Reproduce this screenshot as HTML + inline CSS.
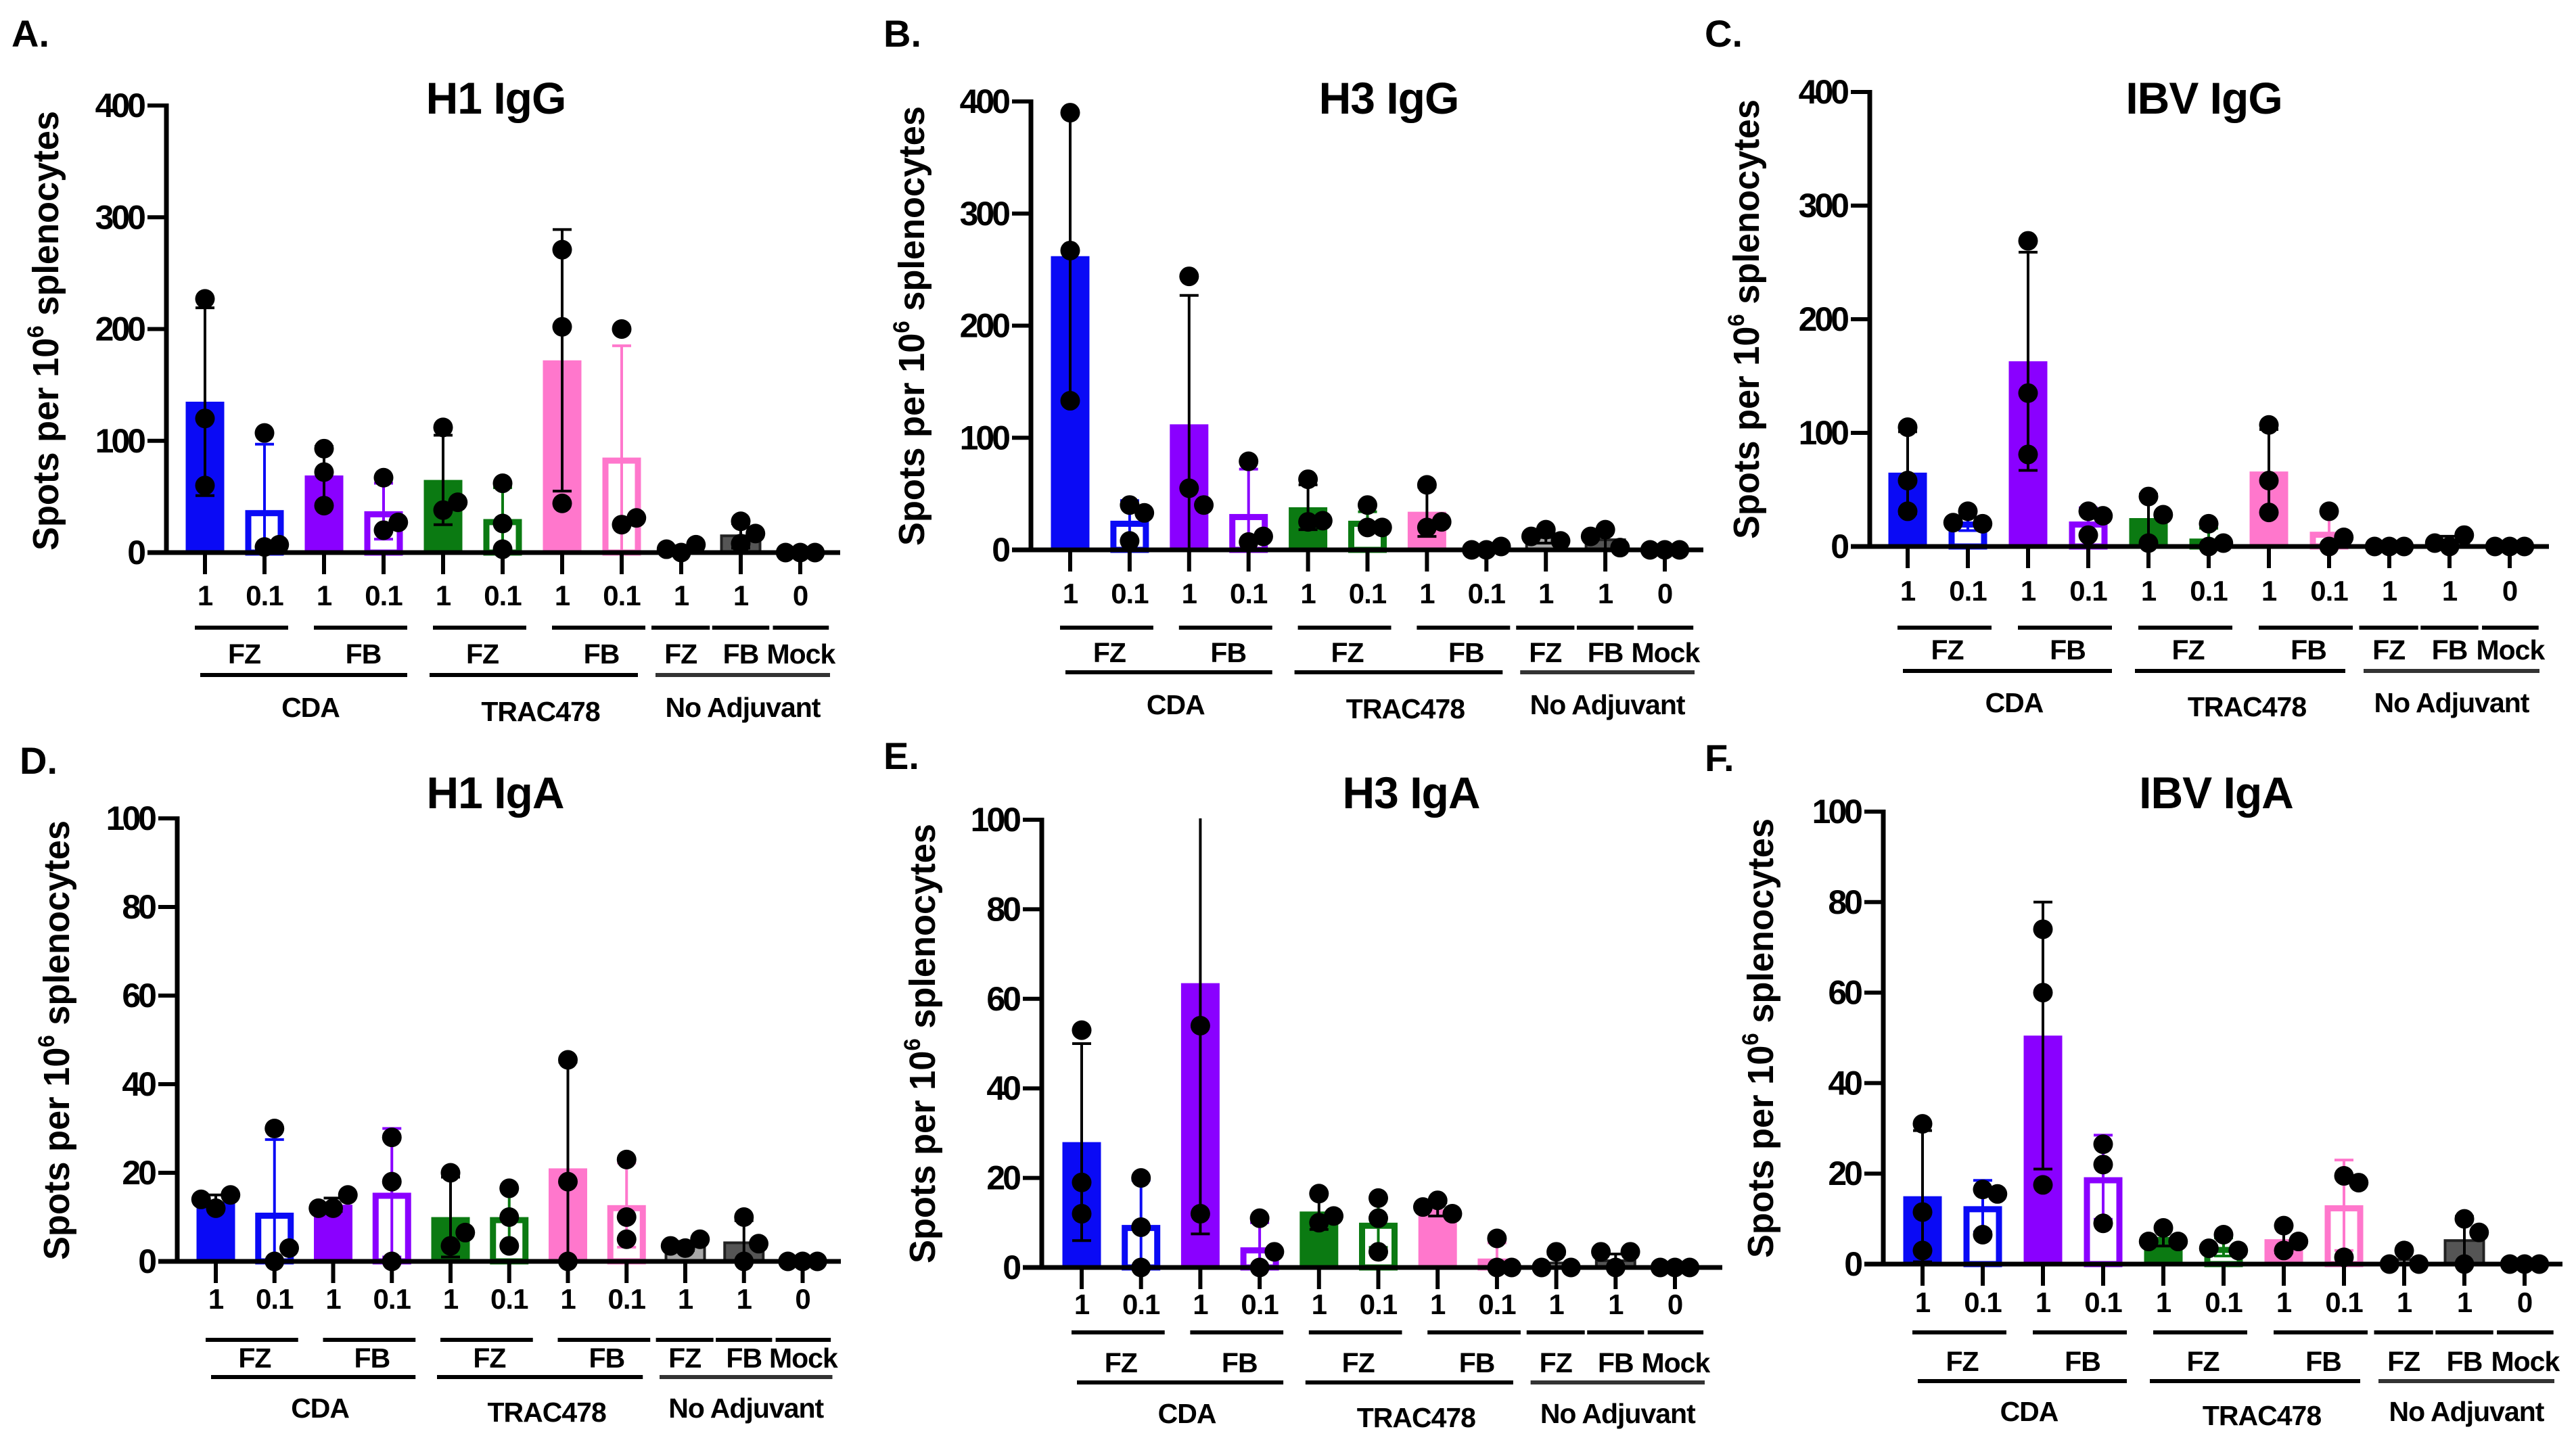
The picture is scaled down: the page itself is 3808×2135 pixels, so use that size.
<!DOCTYPE html>
<html><head><meta charset="utf-8"><style>
html,body{margin:0;padding:0;background:#fff;}
svg{display:block;font-family:"Liberation Sans",Arial,sans-serif;font-weight:bold;}
</style></head><body>
<svg id="fig" xmlns="http://www.w3.org/2000/svg" width="3808" height="2135" viewBox="0 0 3808 2135"></svg>
<script>
// ---- shared categories ----
const doseLabels = ["1","0.1","1","0.1","1","0.1","1","0.1","1","1","0"];
const formLabels = ["FZ","FB","FZ","FB","FZ","FB","Mock"];
const adjLabels = ["CDA","TRAC478","No Adjuvant"];
const panelTitles = ["H1 IgG","H3 IgG","IBV IgG","H1 IgA","H3 IgA","IBV IgA"];
const panelLetters = ["A.","B.","C.","D.","E.","F."];
const igGTicks = [0,100,200,300,400];
const igATicks = [0,20,40,60,80,100];

// ---- panel A: H1 IgG ----
const h1IgGMeans = [135,38,69,37,65,30,172,85,3,15,0];
const h1IgGSD = [84,59,26,25,40,28,117,100,3,11,0];
const h1IgGPoints = [[227,120,60],[107,5,7],[93,72,42],[67,20,27],[112,38,45],[62,26,3],[271,202,44],[200,25,31],[0,7,3],[28,8,17],[0,0,0]];
// ---- panel B: H3 IgG ----
const h3IgGMeans = [262,26,112,32,38,26,34,2,11,9,0];
const h3IgGSD = [128,18,115,40,20,8,22,1,5,9,0];
const h3IgGPoints = [[390,267,133],[40,33,8],[244,55,40],[79,7,12],[63,25,26],[40,20,20],[58,20,25],[0,3,0],[18,8,12],[18,2,12],[0,0,0]];
// ---- panel C: IBV IgG ----
const ibvIgGMeans = [65,22,163,22,25,7,66,13,0,4,0];
const ibvIgGSD = [36,8,96,12,21,9,37,18,0,5,0];
const ibvIgGPoints = [[105,58,31],[31,20,21],[269,135,81],[31,10,27],[44,3,28],[20,0,3],[107,58,30],[31,0,8],[0,0,0],[0,10,3],[0,0,0]];
// ---- panel D: H1 IgA ----
const h1IgAMeans = [13.5,11,12.8,15.5,10,10,21,12.7,3.5,4.2,0];
const h1IgASD = [1.5,16.5,1.5,14.5,9,6.5,24,9.5,1,5,0];
const h1IgAPoints = [[12,15,14],[30,0,3],[12,15,12],[28,18,0],[20,3.5,6.5],[16.5,10,3.5],[45.5,18,0],[23,10,5],[3,5,3.5],[10,0,4],[0,0,0]];
// ---- panel E: H3 IgA ----
const h3IgAMeans = [28,9.5,63.5,4.5,12.5,10,13,2,1,1.5,0];
const h3IgASD = [22,10,56,5.5,4,5.5,1.5,3.5,2,1.5,0];
const h3IgAPoints = [[53,19,12],[20,9,0],[54,12,124],[11,0,3.5],[16.5,10,11.5],[15.5,11,3.5],[15,12,13.5],[6.5,0,0],[3.5,0,0],[0,3.5,3.5],[0,0,0]];
// ---- panel F: IBV IgA ----
const ibvIgAMeans = [15,12.8,50.5,19.2,6,3.8,5.5,13,1,5.2,0];
const ibvIgASD = [14.5,5.7,29.5,9.3,2,2,3,10,2,5.3,0];
const ibvIgAPoints = [[31,11.5,3],[16.5,15.5,6.5],[74,60,17.5],[26.5,22,9],[8,5,5],[6.5,3,3.5],[8.5,3,5],[19.5,18,1.5],[3,0,0],[10,0,7],[0,0,0]];

const panelData = [
  [h1IgGMeans,h1IgGSD,h1IgGPoints],[h3IgGMeans,h3IgGSD,h3IgGPoints],[ibvIgGMeans,ibvIgGSD,ibvIgGPoints],
  [h1IgAMeans,h1IgASD,h1IgAPoints],[h3IgAMeans,h3IgASD,h3IgAPoints],[ibvIgAMeans,ibvIgASD,ibvIgAPoints]];

// layout (geometry, not data)
const layouts = [
 {ax:246,top:156,zero:817,x0:303,sp:88,end:1242,max:400,tx:733,ty:168,lx:17,ly:69,yl:67,yc:489,b:[895,928,981,998,1060]},
 {ax:1524,top:150,zero:813,x0:1582,sp:87.9,end:2518,max:400,tx:2053,ty:168,lx:1306,ly:69,yl:1347,yc:482,b:[892,928,979,994,1056]},
 {ax:2764,top:136,zero:808,x0:2820,sp:89,end:3768,max:400,tx:3258,ty:168,lx:2520,ly:69,yl:2581,yc:472,b:[888,928,975,992,1053]},
 {ax:262,top:1210,zero:1865,x0:319,sp:86.75,end:1243,max:100,tx:732,ty:1195,lx:29,ly:1144,yl:83,yc:1538,b:[1935,1981,2022,2036,2096]},
 {ax:1540,top:1212,zero:1874,x0:1599,sp:87.7,end:2546,max:100,tx:2086,ty:1195,lx:1306,ly:1137,yl:1363,yc:1543,b:[1943,1970,2029,2044,2104]},
 {ax:2784,top:1200,zero:1869,x0:2842,sp:89,end:3788,max:100,tx:3276,ty:1195,lx:2520,ly:1140,yl:2602,yc:1535,b:[1940,1970,2027,2042,2101]}
];
const barColors = ["#0a0af5","#0a0af5","#8a00ff","#8a00ff","#0b7a12","#0b7a12","#ff77cc","#ff77cc","#a8a8a8","#555555","#222222"];
const openBar = [false,true,false,true,false,true,false,true,false,false,false];

const NS = "http://www.w3.org/2000/svg";
const svg = document.getElementById("fig");
function mk(tag, attrs, parent){
  const e = document.createElementNS(NS, tag);
  for (const k in attrs) e.setAttribute(k, attrs[k]);
  (parent||svg).appendChild(e);
  return e;
}

layouts.forEach((L, p) => {
  const [means, sds, pts] = panelData[p];
  const ticks = L.max === 400 ? igGTicks : igATicks;
  const y = v => L.zero - (v / L.max) * (L.zero - L.top);
  const x = i => L.x0 + i * L.sp;
  const g = mk("g", {});
  
  

  const clip = mk("clipPath", {id:"clip"+p}, g);
  mk("rect", {x:L.ax, y:L.top-2, width:L.end-L.ax+40, height:L.zero-L.top+60}, clip);

  const letter = mk("text", {x:L.lx, y:L.ly, "font-size":56}, g);
  letter.textContent = panelLetters[p];
  
  

  const title = mk("text", {x:L.tx, y:L.ty, "font-size":66, "text-anchor":"middle", "letter-spacing":-1}, g);
  title.textContent = panelTitles[p];
  
  

  // y label
  const yl = mk("text", {x:0, y:0, "font-size":54, "text-anchor":"middle", textLength:650, lengthAdjust:"spacingAndGlyphs", transform:`translate(${L.yl+19},${L.yc}) rotate(-90)`}, g);
  
  
  const t1 = mk("tspan", {}, yl); t1.textContent = "Spots per 10";
  const t2 = mk("tspan", {"font-size":34, dy:-22}, yl); t2.textContent = "6";
  const t3 = mk("tspan", {dy:22}, yl); t3.textContent = " splenocytes";

  // bars
  means.forEach((m, i) => {
    const bw = 57, cx = x(i);
    if (m > 0) {
      let r;
      if (openBar[i]) {
        r = mk("rect", {x:cx-bw/2+4.5, y:y(m)+4.5, width:bw-9, height:Math.max(0,L.zero-y(m)-4.5), fill:"#fff", stroke:barColors[i], "stroke-width":9}, g);
      } else {
        r = mk("rect", {x:cx-bw/2, y:y(m), width:bw, height:L.zero-y(m), fill:barColors[i], stroke:(i>=8?"#222":"none"), "stroke-width":(i>=8?4:0)}, g);
      }
      
      
    }
  });

  // error bars and points (clipped)
  const cg = mk("g", {"clip-path":`url(#clip${p})`}, g);
  means.forEach((m, i) => {
    const cx = x(i), sd = sds[i];
    const ec = openBar[i] ? barColors[i] : "#000";
    if (sd > 0) {
      const yt = y(m + sd), yb = y(Math.max(0, m - sd));
      const eb = mk("path", {d:`M${cx},${yt}V${yb}M${cx-14},${yt}H${cx+14}` + (m - sd > 0 ? `M${cx-14},${yb}H${cx+14}` : ""), stroke:ec, "stroke-width":4, fill:"none"}, cg);
      
      
    }
    const rad = 14.5, placed = [];
    pts[i].forEach(v => {
      const py = y(v);
      const offs = [0, 2*rad, -2*rad, 4*rad, -4*rad];
      let ox = 0;
      for (const o of offs) {
        if (!placed.some(q => Math.hypot(q[0]-o, q[1]-py) < 2*rad - 2)) { ox = o; break; }
      }
      placed.push([ox, py]);
      const c = mk("circle", {cx:cx+ox*0.75, cy:py, r:rad, fill:"#000"}, cg);
      
      
    });
  });

  // axes
  const yax = mk("line", {x1:L.ax, y1:L.top-3, x2:L.ax, y2:L.zero+3, stroke:"#000", "stroke-width":7}, g);
  
  
  const xax = mk("line", {x1:L.ax-28, y1:L.zero, x2:L.end, y2:L.zero, stroke:"#000", "stroke-width":7}, g);
  
  
  ticks.forEach(t => {
    mk("line", {x1:L.ax-28, y1:y(t), x2:L.ax, y2:y(t), stroke:"#000", "stroke-width":6}, g);
    const tl = mk("text", {x:L.ax-34, y:y(t)+17, "font-size":50, "text-anchor":"end", "letter-spacing":-4}, g);
    tl.textContent = t;
    
    
  });
  doseLabels.forEach((d, i) => {
    mk("line", {x1:x(i), y1:L.zero, x2:x(i), y2:L.zero+32, stroke:"#000", "stroke-width":6}, g);
    const tl = mk("text", {x:x(i), y:L.b[0], "font-size":42, "text-anchor":"middle", "letter-spacing":-1}, g);
    tl.textContent = d;
    
    
  });

  // group brackets level 1
  const s = L.sp;
  const lvl1 = [[x(0)-15,x(1)+35],[x(2)-15,x(3)+35],[x(4)-15,x(5)+35],[x(6)-15,x(7)+35],[x(8)-0.5*s,x(8)+0.48*s],[x(9)-0.48*s,x(9)+0.48*s],[x(10)-0.46*s,x(10)+0.48*s]];
  lvl1.forEach((seg, k) => {
    mk("line", {x1:seg[0], y1:L.b[1], x2:seg[1], y2:L.b[1], stroke:"#000", "stroke-width":6}, g);
    const tl = mk("text", {x:(seg[0]+seg[1])/2 + (k<4?4:0), y:L.b[2], "font-size":41, "text-anchor":"middle", "letter-spacing":-1}, g);
    tl.textContent = formLabels[k];
    
    
  });
  const lvl2 = [[x(0)-7,x(3)+35],[x(4)-20,x(7)+24],[x(8)-38,x(10)+44]];
  lvl2.forEach((seg, k) => {
    mk("line", {x1:seg[0], y1:L.b[3], x2:seg[1], y2:L.b[3], stroke:(k==2?"#333":"#000"), "stroke-width":6}, g);
    const tl = mk("text", {x:(seg[0]+seg[1])/2 + (k<2?10:0), y:L.b[4] + (k==1?6:0), "font-size":41, "text-anchor":"middle", "letter-spacing":-1}, g);
    tl.textContent = adjLabels[k];
    
    
  });
});
</script>
</body></html>
